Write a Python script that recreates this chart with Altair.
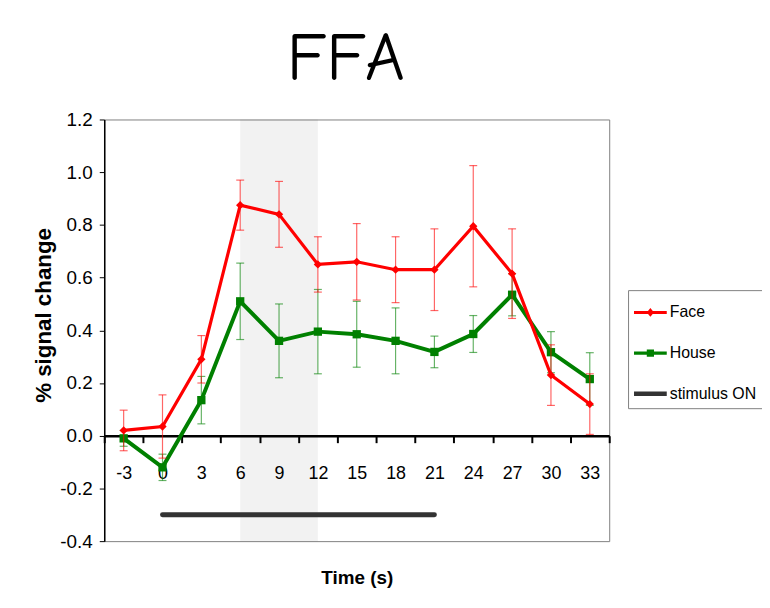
import altair as alt
import pandas as pd

# ---- data ----
times = [-3, 0, 3, 6, 9, 12, 15, 18, 21, 24, 27, 30, 33]
face = [0.02, 0.035, 0.29, 0.875, 0.84, 0.65, 0.66, 0.63, 0.63, 0.795, 0.615, 0.23, 0.12]
face_err = [0.077, 0.12, 0.09, 0.095, 0.125, 0.105, 0.145, 0.125, 0.155, 0.23, 0.17, 0.115, 0.115]
house = [-0.01, -0.12, 0.135, 0.51, 0.36, 0.395, 0.385, 0.36, 0.318, 0.386, 0.535, 0.317, 0.215]
house_err = [0.03, 0.05, 0.09, 0.145, 0.14, 0.16, 0.125, 0.125, 0.06, 0.07, 0.08, 0.078, 0.1]

shade_start = [6]
shade_end = [12]
stim_start = [0]
stim_end = [21]
stim_level = [-0.3]

y_ticks = [-0.4, -0.2, 0.0, 0.2, 0.4, 0.6, 0.8, 1.0, 1.2]
x_tick_marks = [-4.5, -1.5, 1.5, 4.5, 7.5, 10.5, 13.5, 16.5, 19.5, 22.5, 25.5, 28.5, 31.5, 34.5]

series_names = ["Face", "House", "stimulus ON"]
series_colors = ["#FF0000", "#008000", "#333333"]
legend_paths = [
    "M-1,-0.09H1V0.09H-1Z M0,-0.27L0.22,0L0,0.27L-0.22,0Z",
    "M-1,-0.1H1V0.1H-1Z M-0.22,-0.22H0.22V0.22H-0.22Z",
    "M-1,-0.14H1V0.14H-1Z",
]

SANS = "Liberation Sans, Arial"

W, H = 509, 425
X_OFFSET = -106.25

df = pd.DataFrame({"t": times, "face": face, "face_err": face_err,
                   "house": house, "house_err": house_err})

x_scale = alt.Scale(domain=[-4.5, 34.5], nice=False, zero=False)
y_scale = alt.Scale(domain=[-0.4, 1.2], nice=False, zero=False)

# axis with the tick marks between categories, the domain line and the title
x_axis_ticks = alt.Axis(
    orient="bottom", values=x_tick_marks, labels=False,
    tickSize=7, tickWidth=2, tickColor="black",
    domainWidth=2.5, domainColor="black",
    offset=X_OFFSET, grid=False,
    title="Time (s)", titleFont=SANS, titleFontSize=19, titleFontWeight="bold",
    titleColor="black", titlePadding=126,
)
# axis carrying the category labels
x_axis_labels = alt.Axis(
    orient="bottom", values=times,
    labelExpr="datum.value < 0 ? '-' + abs(datum.value) : '' + datum.value",
    labelFlush=False, labelOverlap=False, labelBound=False,
    labelFont=SANS, labelFontSize=18, labelColor="black", labelPadding=29,
    ticks=False, domain=False, offset=X_OFFSET, grid=False, title=None,
)
y_axis = alt.Axis(
    values=y_ticks,
    labelExpr="replace(format(datum.value, '.1f'), '\u2212', '-')",
    labelFont=SANS, labelFontSize=19, labelColor="black", labelPadding=7,
    tickSize=5, tickWidth=1, tickColor="black",
    domainWidth=1.5, domainColor="black", grid=False,
    title="% signal change", titleFont=SANS, titleFontSize=22.5, titleFontWeight="bold",
    titleColor="black", titleX=-61, titleY=197, titleAngle=270,
    titleBaseline="middle", titleAlign="center",
)


def X(field, axis=None):
    return alt.X(field, type="quantitative", scale=x_scale, axis=axis)


def Y(field):
    return alt.Y(field, type="quantitative", scale=y_scale, axis=y_axis)


# translucent black over white gives the light grey band while leaving the axis labels visible
shade = alt.Chart(pd.DataFrame({"x0": shade_start, "x1": shade_end})).mark_rect(
    color="black", opacity=0.05
).encode(
    x=X("x0", x_axis_ticks), x2="x1",
    y=alt.Y(datum=1.2, scale=y_scale, axis=y_axis), y2=alt.Y2(datum=-0.4),
)

stim = alt.Chart(pd.DataFrame({"s": stim_start, "e": stim_end, "lvl": stim_level})).mark_rule(
    color="#333333", strokeWidth=5, strokeCap="round"
).encode(x=X("s"), x2="e", y=Y("lvl"))


def series_layers(col, err, color, shape, line_w, pt_size, label_axis=None):
    base = alt.Chart(df).transform_calculate(
        lo=f"datum.{col} - datum.{err}", hi=f"datum.{col} + datum.{err}"
    )
    rule = base.mark_rule(color=color, opacity=0.6, strokeWidth=1.2).encode(
        x=X("t"), y=Y("lo"), y2="hi")
    cap_lo = base.mark_tick(orient="horizontal", size=8, thickness=1.2,
                            color=color, opacity=0.6).encode(x=X("t"), y=Y("lo"))
    cap_hi = base.mark_tick(orient="horizontal", size=8, thickness=1.2,
                            color=color, opacity=0.6).encode(x=X("t"), y=Y("hi"))
    line = base.mark_line(color=color, strokeWidth=line_w).encode(x=X("t"), y=Y(col))
    pts = base.mark_point(shape=shape, filled=True, size=pt_size, color=color,
                          opacity=1).encode(x=X("t", label_axis), y=Y(col))
    return [rule, cap_lo, cap_hi, line, pts]


house_layers = series_layers("house", "house_err", "#008000", "square", 4, 70)
face_layers = series_layers("face", "face_err", "#FF0000", "diamond", 3.2, 70, x_axis_labels)

leg = alt.Legend(
    title=None, orient="none", legendX=528, legendY=172, direction="vertical",
    strokeColor="#7f7f7f", fillColor="white", padding=6,
    labelFont=SANS, labelFontSize=16, labelColor="black", labelOffset=3,
    symbolSize=1089, symbolStrokeWidth=0, rowPadding=16, symbolOpacity=1,
)
legend_layer = alt.Chart(pd.DataFrame({"series": series_names})).transform_filter(
    "false"
).mark_point(filled=True, opacity=1, strokeWidth=0).encode(
    x=X("t"), y=Y("t"),
    color=alt.Color("series:N", scale=alt.Scale(domain=series_names, range=series_colors), legend=leg),
    shape=alt.Shape("series:N", scale=alt.Scale(domain=series_names, range=legend_paths), legend=leg),
)

chart = alt.layer(
    shade, stim, *house_layers, *face_layers, legend_layer
).resolve_axis(x="independent").properties(
    width=W, height=H,
    autosize="none",
    padding={"left": 97, "top": 110, "right": 154, "bottom": 62},
    title=alt.TitleParams(
        "FFA", font="Comic Sans MS, Comic Neue, Open Sans", fontSize=69,
        fontWeight="normal", color="black", anchor="middle", dx=-11,
        offset=-38, baseline="alphabetic", frame="group",
    ),
).configure_view(stroke="#808080", strokeWidth=1)

chart.save("out.html", embed_options={"renderer": "svg", "actions": False})
